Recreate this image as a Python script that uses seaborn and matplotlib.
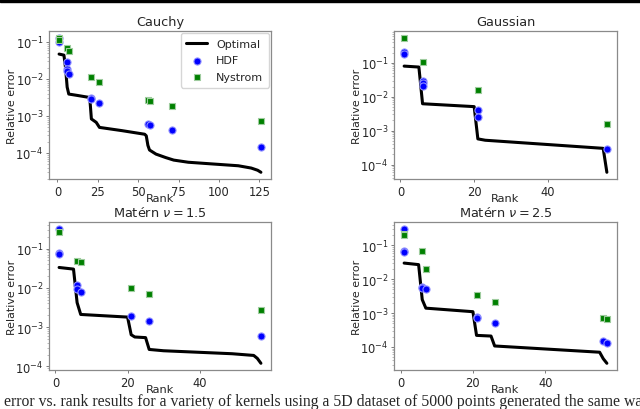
import matplotlib
matplotlib.use("Agg")
import matplotlib.pyplot as plt
from matplotlib.patches import Rectangle
import seaborn as sns

# ---------------- data ----------------
titles = ["Cauchy", "Gaussian", r"Matérn $\nu = 1.5$", r"Matérn $\nu = 2.5$"]

cauchy_opt_rank = [1, 4, 5, 6, 7, 12, 19, 20, 21, 24, 26, 40, 54, 55, 56, 57, 61, 67, 72, 81, 97, 112, 120, 124, 126]
cauchy_opt_err = [0.047, 0.044, 0.02, 0.006, 0.0039, 0.0036, 0.0032, 0.0031, 0.00083, 0.00067, 0.00049, 0.0004,
                  0.00032, 0.00029, 0.00016, 0.00012, 0.000093, 0.000075, 0.000064, 0.000056, 0.00005, 0.000045,
                  0.000039, 0.000034, 0.00003]
cauchy_hdf_rank = [1, 1, 6, 6, 6, 7, 21, 21, 26, 56, 57, 71, 126]
cauchy_hdf_err = [0.13, 0.10, 0.028, 0.018, 0.016, 0.014, 0.0031, 0.0029, 0.0022, 0.0006, 0.00057, 0.00042, 0.000145]
cauchy_nys_rank = [1, 1, 6, 7, 21, 26, 56, 57, 71, 126]
cauchy_nys_err = [0.125, 0.115, 0.067, 0.057, 0.0114, 0.0083, 0.0027, 0.0026, 0.0019, 0.00074]

gauss_opt_rank = [1, 5, 6, 20, 21, 23, 55, 56]
gauss_opt_err = [0.08, 0.075, 0.0062, 0.0051, 0.00057, 0.00052, 0.0003, 0.000059]
gauss_hdf_rank = [1, 1, 6, 6, 6, 21, 21, 56]
gauss_hdf_err = [0.215, 0.18, 0.029, 0.025, 0.021, 0.0041, 0.0026, 0.00028]
gauss_nys_rank = [1, 6, 21, 56]
gauss_nys_err = [0.55, 0.105, 0.016, 0.00155]

m15_opt_rank = [1, 5, 6, 7, 20, 21, 22, 25, 26, 30, 49, 55, 56, 57]
m15_opt_err = [0.033, 0.030, 0.0042, 0.0021, 0.0018, 0.00064, 0.00056, 0.00054, 0.00027, 0.00025, 0.00021,
               0.00019, 0.00016, 0.00012]
m15_hdf_rank = [1, 1, 1, 6, 6, 7, 21, 26, 57]
m15_hdf_err = [0.32, 0.079, 0.072, 0.0118, 0.0095, 0.0077, 0.0019, 0.0014, 0.00058]
m15_nys_rank = [1, 6, 7, 21, 26, 57]
m15_nys_err = [0.27, 0.048, 0.046, 0.0102, 0.0069, 0.0027]

m25_opt_rank = [1, 5, 6, 7, 20, 21, 25, 26, 54, 55, 56, 57]
m25_opt_err = [0.030, 0.027, 0.0025, 0.0014, 0.0011, 0.00022, 0.00021, 0.000107, 0.000071, 0.00007, 0.000045, 0.000033]
m25_hdf_rank = [1, 1, 1, 6, 6, 7, 21, 21, 26, 56, 57]
m25_hdf_err = [0.31, 0.068, 0.063, 0.0059, 0.0055, 0.0050, 0.00076, 0.00072, 0.00052, 0.00015, 0.00013]
m25_nys_rank = [1, 1, 6, 7, 21, 26, 56, 57]
m25_nys_err = [0.21, 0.20, 0.068, 0.020, 0.0035, 0.0022, 0.00073, 0.00069]

caption = ("error vs. rank results for a variety of kernels using a 5D dataset of 5000 points "
           "generated the same way")

panels = [
    (cauchy_opt_rank, cauchy_opt_err, cauchy_hdf_rank, cauchy_hdf_err, cauchy_nys_rank, cauchy_nys_err),
    (gauss_opt_rank, gauss_opt_err, gauss_hdf_rank, gauss_hdf_err, gauss_nys_rank, gauss_nys_err),
    (m15_opt_rank, m15_opt_err, m15_hdf_rank, m15_hdf_err, m15_nys_rank, m15_nys_err),
    (m25_opt_rank, m25_opt_err, m25_hdf_rank, m25_hdf_err, m25_nys_rank, m25_nys_err),
]

# ---------------- figure ----------------
sns.set_style("ticks")
plt.rcParams["font.family"] = ["DejaVu Sans"]

W, H = 640, 410
fig = plt.figure(figsize=(6.4, 4.1), dpi=100)

boxes = [  # left, top, right, bottom in pixels
    (49, 32, 271, 180),
    (394, 32, 617, 180),
    (49, 223, 271, 371),
    (394, 223, 617, 371),
]

for i, (box, data, title) in enumerate(zip(boxes, panels, titles)):
    l, t, r, b = box
    ax = fig.add_axes([l / W, 1 - b / H, (r - l) / W, (b - t) / H])
    o_r, o_e, h_r, h_e, n_r, n_e = data
    sns.lineplot(x=o_r, y=o_e, ax=ax, color="black", lw=2.2, sort=False, estimator=None, label="Optimal")
    sns.scatterplot(x=h_r, y=h_e, ax=ax, color="blue", marker="o", s=26, edgecolor="#8f8fff",
                    linewidth=0.8, label="HDF", zorder=3)
    sns.scatterplot(x=n_r, y=n_e, ax=ax, color="green", marker="s", s=24, edgecolor="#9fcc9f",
                    linewidth=0.8, label="Nystrom", zorder=3)
    ax.set_yscale("log")
    ax.margins(0.05)
    ax.set_title(title, fontsize=9.3, pad=4)
    ax.set_xlabel("Rank", fontsize=8.2, labelpad=-3.6)
    ax.set_ylabel("Relative error", fontsize=7.9, labelpad=-1.2)
    ax.tick_params(labelsize=8.3, length=2.5, width=0.6, pad=1.5, color="#666666")
    ax.tick_params(which="minor", length=1.5, width=0.4, color="#888888")
    for sp in ax.spines.values():
        sp.set_color("#8a8a8a")
        sp.set_linewidth(0.9)
        sp.set_visible(True)
    if i == 0:
        ax.legend(loc="upper right", fontsize=8.0, frameon=True, handlelength=1.9,
                  borderpad=0.5, labelspacing=0.6, framealpha=0.8, borderaxespad=0.2)
    else:
        lg = ax.get_legend()
        if lg is not None:
            lg.remove()

fig.text(4 / W, 1 - 406 / H, caption, fontsize=11.3, family=["Liberation Serif"],
         ha="left", va="baseline")
fig.patches.append(Rectangle((0, 1 - 2.5 / H), 1, 2.5 / H, transform=fig.transFigure,
                             color="black", zorder=10))

fig.savefig("out.png", dpi=100)
